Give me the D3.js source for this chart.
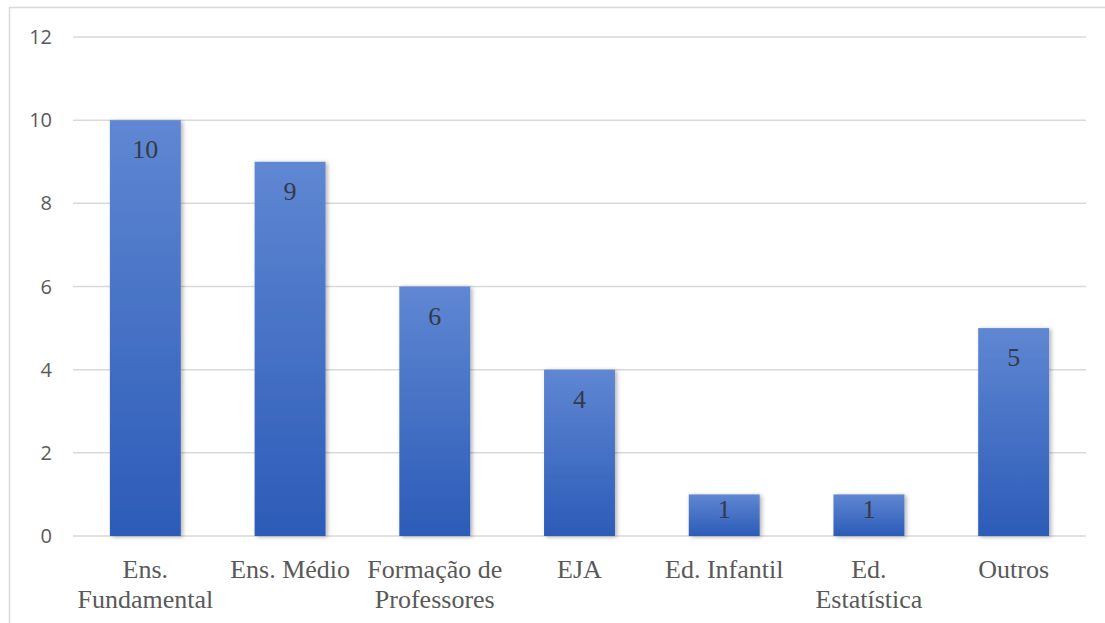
<!DOCTYPE html>
<html>
<head>
<meta charset="utf-8">
<script src="https://cdn.jsdelivr.net/npm/d3@7"></script>
<style>
  body { margin: 0; background: #fff; }
  svg { display: block; }
  .tick-y { font-family: "Open Sans", sans-serif; font-size: 20px; fill: #595959; }
  .cat, .cat tspan { font-family: "Liberation Serif", "Times New Roman", serif; font-size: 26px; fill: #595959; }
  .val { font-family: "Liberation Serif", "Times New Roman", serif; font-size: 26px; fill: #333a48; }
</style>
</head>
<body>
<svg id="chart" width="1105" height="623"></svg>
<script>
// Data
const categories = ['Ens. Fundamental', 'Ens. Médio', 'Formação de Professores', 'EJA', 'Ed. Infantil', 'Ed. Estatística', 'Outros'];
const categoryLines = [['Ens.', 'Fundamental'], ['Ens. Médio'], ['Formação de', 'Professores'], ['EJA'], ['Ed. Infantil'], ['Ed.', 'Estatística'], ['Outros']];
const values = [10, 9, 6, 4, 1, 1, 5];
const yTicks = [0, 2, 4, 6, 8, 10, 12];

const svg = d3.select('#chart');
const margin = { left: 73, right: 19, top: 37, bottom: 87 };
const width = 1105, height = 623;

// Frame
svg.append('path')
  .attr('d', `M9.5,623 V7.5 H1105`)
  .attr('fill', 'none')
  .attr('stroke', '#d9d9d9')
  .attr('stroke-width', 1.5);

const x = d3.scaleBand()
  .domain(categories)
  .range([margin.left, width - margin.right])
  .paddingInner(0.51)
  .paddingOuter(0.255);

const y = d3.scaleLinear()
  .domain([0, 12])
  .range([height - margin.bottom, margin.top]);

// Gradient + shadow
const defs = svg.append('defs');
const grad = defs.append('linearGradient')
  .attr('id', 'barGrad')
  .attr('x1', 0).attr('y1', 0).attr('x2', 0).attr('y2', 1);
grad.append('stop').attr('offset', '0%').attr('stop-color', '#5f87d2');
grad.append('stop').attr('offset', '100%').attr('stop-color', '#2c5bb8');

const shadow = defs.append('filter').attr('id', 'shadow')
  .attr('x', '-20%').attr('y', '-20%').attr('width', '140%').attr('height', '140%');
shadow.append('feDropShadow')
  .attr('dx', 2).attr('dy', 1).attr('stdDeviation', 2)
  .attr('flood-color', '#000').attr('flood-opacity', 0.3);

// Gridlines
svg.append('g')
  .selectAll('line')
  .data(yTicks)
  .join('line')
  .attr('x1', margin.left)
  .attr('x2', width - margin.right)
  .attr('y1', (d) => y(d))
  .attr('y2', (d) => y(d))
  .attr('stroke', '#d9d9d9')
  .attr('stroke-width', 1.5);

// Y tick labels
svg.append('g')
  .selectAll('text')
  .data(yTicks)
  .join('text')
  .attr('class', 'tick-y')
  .attr('x', 52)
  .attr('y', (d) => y(d))
  .attr('dy', '0.35em')
  .attr('text-anchor', 'end')
  .text((d) => d);

// Bars
svg.append('g')
  .selectAll('rect')
  .data(values)
  .join('rect')
  .attr('x', (d, i) => x(categories[i]))
  .attr('y', (d) => y(d))
  .attr('width', x.bandwidth())
  .attr('height', (d) => y(0) - y(d))
  .attr('fill', 'url(#barGrad)')
  .attr('filter', 'url(#shadow)');

// Value labels (inside end; centred when the bar is short)
svg.append('g')
  .selectAll('text')
  .data(values)
  .join('text')
  .attr('class', 'val')
  .attr('x', (d, i) => x(categories[i]) + x.bandwidth() / 2)
  .attr('y', (d) => Math.min(y(d) + 38, (y(d) + y(0)) / 2 + 3))
  .attr('text-anchor', 'middle')
  .text((d) => d);

// Category labels
const cat = svg.append('g')
  .selectAll('text')
  .data(categoryLines)
  .join('text')
  .attr('class', 'cat')
  .attr('text-anchor', 'middle')
  .attr('x', (d, i) => x(categories[i]) + x.bandwidth() / 2)
  .attr('y', 578);

cat.selectAll('tspan')
  .data((d, i) => d.map((line) => ({ line, i })))
  .join('tspan')
  .attr('x', (d) => x(categories[d.i]) + x.bandwidth() / 2)
  .attr('dy', (d, j) => (j === 0 ? 0 : 30))
  .text((d) => d.line);
</script>
</body>
</html>
